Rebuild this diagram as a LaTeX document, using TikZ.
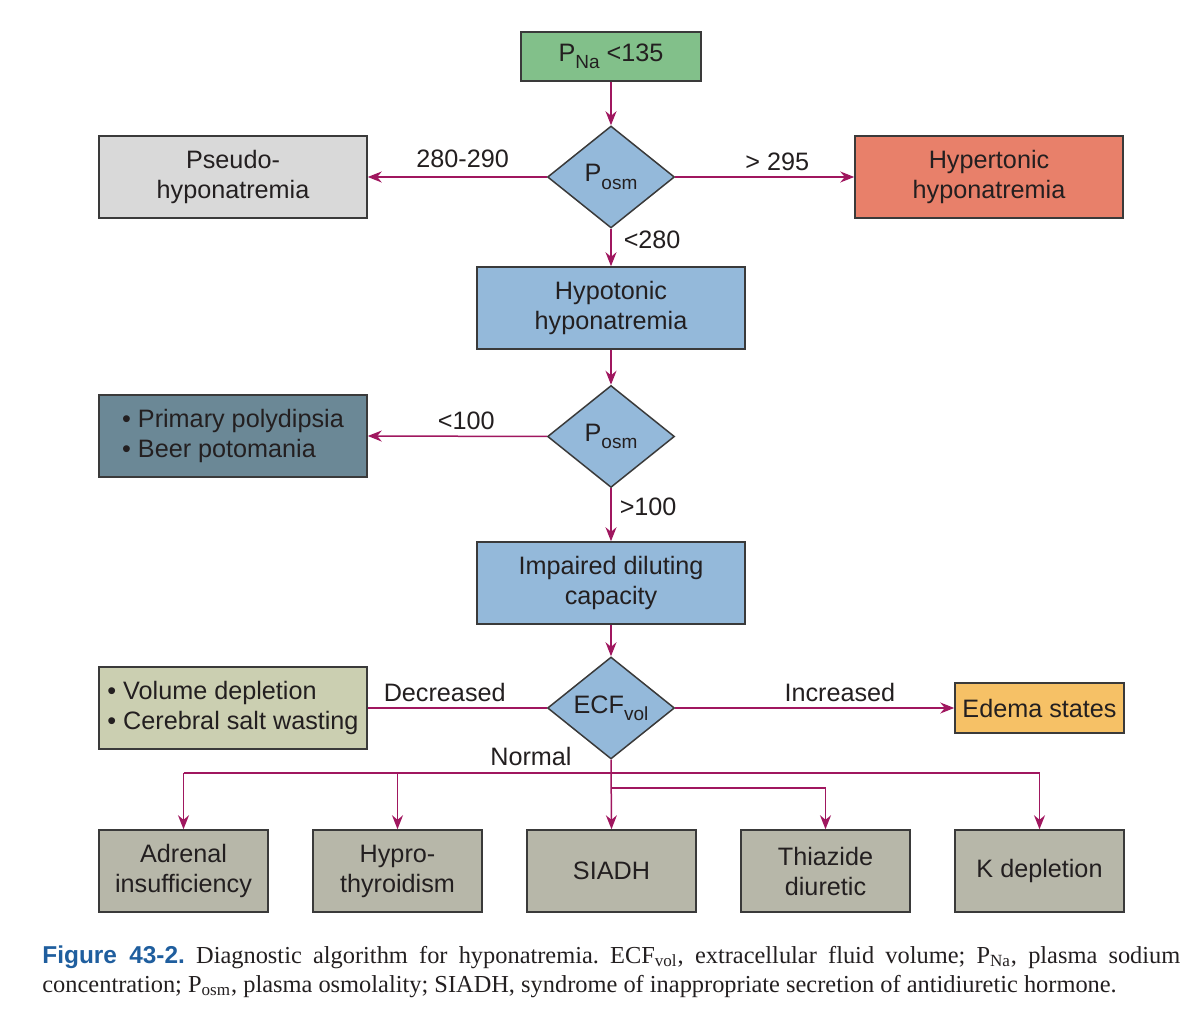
\documentclass[tikz,border=0pt]{standalone}
\usepackage{fontspec}
\setmainfont{Liberation Sans}
\newfontfamily\capfont{Liberation Serif}
\usepackage[HTML]{xcolor}
\usetikzlibrary{positioning, arrows.meta, shapes.geometric}

\definecolor{linkcol}{HTML}{A0175F}
\definecolor{edgecol}{HTML}{3A3A3A}
\definecolor{txtcol}{HTML}{231F20}
\definecolor{startfill}{HTML}{82C08A}
\definecolor{bluefill}{HTML}{94B9DA}
\definecolor{pseudofill}{HTML}{D9D9D9}
\definecolor{hyperfill}{HTML}{E8806A}
\definecolor{slatefill}{HTML}{6B8896}
\definecolor{volfill}{HTML}{CBCFB1}
\definecolor{edemafill}{HTML}{F6C166}
\definecolor{causefill}{HTML}{B7B7A9}
\definecolor{figblue}{HTML}{1F5E9E}

% lowered subscript as in the printed figure
\newcommand\lowsub[1]{\raisebox{-0.55ex}{\fontsize{9.5}{9.5}\selectfont #1}}

\tikzset{
  every node/.style={text=txtcol, font=\fontsize{12.6}{15}\selectfont},
  box/.style={draw=edgecol, line width=0.75pt, align=center, inner sep=2pt,
    minimum width=134pt, minimum height=41pt},
  smallbox/.style={box, minimum width=84.5pt},
  decide/.style={diamond, draw=edgecol, line width=0.75pt, fill=bluefill,
    inner sep=0pt, minimum width=63.5pt, minimum height=51pt},
  link/.style={draw=linkcol, line width=0.75pt},
  arrow/.style={link, -{Stealth[length=7pt, width=5.5pt]}},
  lbl/.style={inner sep=2pt},
}

\begin{document}
\begin{tikzpicture}[x=0.5pt, y=-0.5pt]
\useasboundingbox (0,0) rectangle (1200,1021);

% nodes
\node[box, fill=startfill, minimum width=90pt, minimum height=24.5pt] (pna) at (611,56.5) {P\lowsub{Na} <135};
\node[decide] (posmA) at (611,177) {P\lowsub{osm}};
\node[box, fill=pseudofill] (pseudo) at (233,177) {Pseudo-\\hyponatremia};
\node[box, fill=hyperfill] (hyper) at (989,177) {Hypertonic\\hyponatremia};
\node[box, fill=bluefill] (hypo) at (611,308) {Hypotonic\\hyponatremia};
\node[decide] (posmB) at (611,436.5) {P\lowsub{osm}};
\node[box, fill=slatefill, align=left] (primary) at (233,436) {\textbullet\ Primary polydipsia\\\textbullet\ Beer potomania};
\node[box, fill=bluefill] (impaired) at (611,583) {Impaired diluting\\capacity};
\node[decide] (ecf) at (611,708) {ECF\lowsub{vol}};
\node[box, fill=volfill, align=left] (volume) at (233,708) {\textbullet\ Volume depletion\\\textbullet\ Cerebral salt wasting};
\node[smallbox, fill=edemafill, minimum height=25pt] (edema) at (1039.5,708) {Edema states};

% causes with normal volume
\node[smallbox, fill=causefill] (adrenal) at (183.5,871) {Adrenal\\insufficiency};
\node[smallbox, fill=causefill] (hypothyr) at (397.5,871) {Hypro-\\thyroidism};
\node[smallbox, fill=causefill] (siadh) at (611.5,871) {SIADH};
\node[smallbox, fill=causefill] (thiazide) at (825.5,871) {Thiazide\\diuretic};
\node[smallbox, fill=causefill] (kdep) at (1039.5,871) {K depletion};

% edges
\draw[arrow] (pna) -- (posmA);
\draw[arrow] (posmA.west) -- node[lbl, above, pos=0.47, yshift=2pt] {280-290} (pseudo.east);
\draw[arrow] (posmA.east) -- node[lbl, above, pos=0.57, yshift=1pt] {> 295} (hyper.west);
\draw[arrow] (posmA.south) -- node[lbl, right, pos=0.3, xshift=4pt] {<280} (hypo.north);
\draw[arrow] (hypo.south) -- (posmB.north);
\draw[arrow] (posmB.west) -- node[lbl, above, pos=0.45, yshift=1pt] {<100} (primary.east);
\draw[arrow] (posmB.south) -- node[lbl, right, pos=0.35, xshift=2pt] {>100} (impaired.north);
\draw[arrow] (impaired.south) -- (ecf.north);
\draw[link] (ecf.west) -- node[lbl, above, pos=0.57, yshift=1pt] {Decreased} (volume.east);
\draw[arrow] (ecf.east) -- node[lbl, above, pos=0.59, yshift=1pt] {Increased} (edema.west);

% normal volume bus
\coordinate (bus) at (611,773);
\coordinate (busB) at (611,788);
\node[lbl] (normal) at (531,756) {Normal};
\draw[arrow] (ecf.south) -- (siadh.north);
\draw[link] (adrenal.north |- bus) -- (kdep.north |- bus);
\foreach \n in {adrenal,hypothyr,kdep}{
  \draw[arrow] (\n.north |- bus) -- (\n.north);
}
\draw[arrow] (busB) -| (thiazide.north);

% caption
\node[anchor=north west, inner sep=0pt, text width=569pt, align=justify,
  font=\capfont\fontsize{12.2}{14.5}\selectfont\frenchspacing] (caption) at (42,945)
  {{\fontspec{Liberation Sans}\bfseries\color{figblue}Figure 43-2.}\ Diagnostic algorithm for hyponatremia. ECF\textsubscript{vol}, extracellular fluid volume; P\textsubscript{Na}, plasma sodium\linebreak concentration; P\textsubscript{osm}, plasma osmolality; SIADH, syndrome of inappropriate secretion of antidiuretic hormone.\par};
\end{tikzpicture}
\end{document}
